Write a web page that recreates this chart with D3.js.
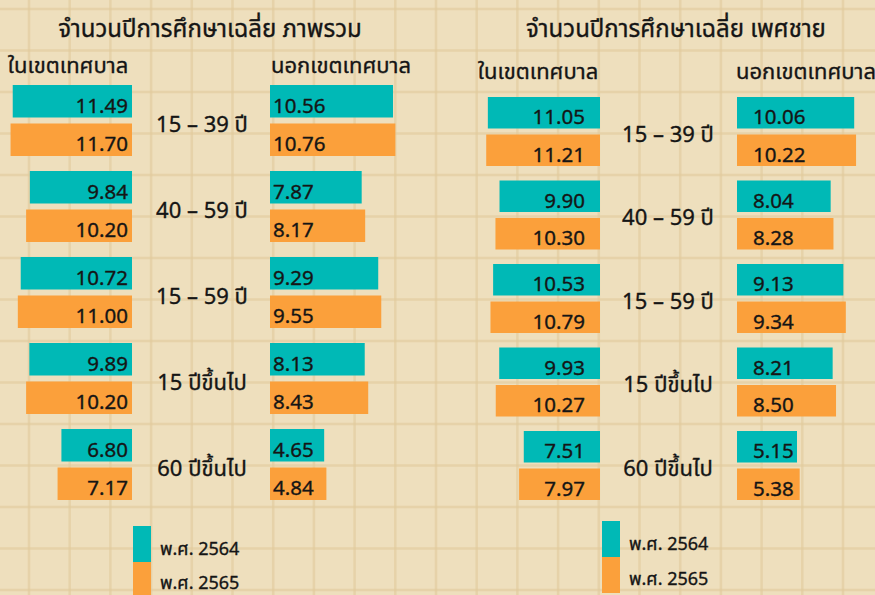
<!DOCTYPE html>
<html>
<head>
<meta charset="utf-8">
<script src="https://cdn.jsdelivr.net/npm/d3@7"></script>
<style>
  html, body { margin: 0; padding: 0; background: #EEDFBD; }
  svg { display: block; }
  text { font-family: Tahoma, "Noto Sans Thai", "Noto Sans", "DejaVu Sans", sans-serif; fill: #151515; stroke: #151515; stroke-width: 0.35px; }
</style>
</head>
<body>
<svg id="chart" width="875" height="595"></svg>
<script>
// ---------- data ----------
const categories = ["15 – 39 ปี", "40 – 59 ปี", "15 – 59 ปี", "15 ปีขึ้นไป", "60 ปีขึ้นไป"];
const years = ["พ.ศ. 2564", "พ.ศ. 2565"];
const areaLabels = ["ในเขตเทศบาล", "นอกเขตเทศบาล"];
const panelTitles = ["จำนวนปีการศึกษาเฉลี่ย ภาพรวม", "จำนวนปีการศึกษาเฉลี่ย เพศชาย"];

const totalUrban2564 = [11.49, 9.84, 10.72, 9.89, 6.80];
const totalUrban2565 = [11.70, 10.20, 11.00, 10.20, 7.17];
const totalRural2564 = [10.56, 7.87, 9.29, 8.13, 4.65];
const totalRural2565 = [10.76, 8.17, 9.55, 8.43, 4.84];

const maleUrban2564 = [11.05, 9.90, 10.53, 9.93, 7.51];
const maleUrban2565 = [11.21, 10.30, 10.79, 10.27, 7.97];
const maleRural2564 = [10.06, 8.04, 9.13, 8.21, 5.15];
const maleRural2565 = [10.22, 8.28, 9.34, 8.50, 5.38];

const colors = ["#00B9B6", "#FBA03B"];

// ---------- layout ----------
const W = 875, H = 595;
const svg = d3.select("#chart");

// background grid
svg.append("rect").attr("width", W).attr("height", H).attr("fill", "#EEDFBD");
const gx = d3.range(-1, 22).map(k => 29 + 40.7 * k);
const gy = d3.range(0, 15).map(k => 9 + 41.5 * k);
svg.append("g").selectAll("line.v").data(gx).join("line")
  .attr("x1", d => d).attr("x2", d => d).attr("y1", 0).attr("y2", H)
  .attr("stroke", "#E2CB9C").attr("stroke-width", 2.5).attr("opacity", 0.6);
svg.append("g").selectAll("line.h").data(gy).join("line")
  .attr("y1", d => d).attr("y2", d => d).attr("x1", 0).attr("x2", W)
  .attr("stroke", "#E2CB9C").attr("stroke-width", 2.5).attr("opacity", 0.6);

const panels = [
  {
    title: panelTitles[0], titleX: 210, titleY: 37,
    urban: [totalUrban2564, totalUrban2565], rural: [totalRural2564, totalRural2565],
    urbanEnd: 132, urbanPx: 10.38, ruralStart: 270, ruralPx: 11.65,
    top: 85, step: 86, groupH: 71, barGap: 6,
    headY: 73, urbanHeadX: 68, ruralHeadX: 341,
    catX: 202, catOff: 11, textInsetL: 4, textInsetR: 3,
    legendX: 133, legendY: 526, legendH: 36, legendBase: [29, 27]
  },
  {
    title: panelTitles[1], titleX: 676, titleY: 37,
    urban: [maleUrban2564, maleUrban2565], rural: [maleRural2564, maleRural2565],
    urbanEnd: 600, urbanPx: 10.15, ruralStart: 737, ruralPx: 11.65,
    top: 97, step: 83.5, groupH: 69, barGap: 6,
    headY: 79, urbanHeadX: 538, ruralHeadX: 806,
    catX: 668, catOff: 10, textInsetL: 15, textInsetR: 16,
    legendX: 602, legendY: 521, legendH: 36, legendBase: [29, 28]
  }
];

panels.forEach(p => {
  const g = svg.append("g");

  g.append("text").attr("x", p.titleX).attr("y", p.titleY)
    .attr("text-anchor", "middle").attr("font-size", 24)
    .text(p.title);

  g.append("text").attr("x", p.urbanHeadX).attr("y", p.headY)
    .attr("text-anchor", "middle").attr("font-size", 22).text(areaLabels[0]);
  g.append("text").attr("x", p.ruralHeadX).attr("y", p.headY)
    .attr("text-anchor", "middle").attr("font-size", 22).text(areaLabels[1]);

  const y = d3.scaleBand().domain(categories)
    .range([p.top, p.top + 4 * p.step + p.groupH])
    .paddingInner((p.step - p.groupH) / p.step).paddingOuter(0);
  const inner = d3.scaleBand().domain(years).range([0, p.groupH])
    .paddingInner(p.barGap / ((p.groupH + p.barGap) / 2)).paddingOuter(0);

  const xU = d3.scaleLinear().domain([0, 12]).range([p.urbanEnd, p.urbanEnd - 12 * p.urbanPx]);
  const xR = d3.scaleLinear().domain([0, 12]).range([p.ruralStart, p.ruralStart + 12 * p.ruralPx]);

  categories.forEach((c, i) => {
    years.forEach((yr, j) => {
      const vU = p.urban[j][i], vR = p.rural[j][i];
      const by = y(c) + inner(yr), bh = inner.bandwidth();
      g.append("rect").attr("x", xU(vU)).attr("y", by)
        .attr("width", xU(0) - xU(vU)).attr("height", bh).attr("fill", colors[j]);
      g.append("text").attr("x", xU(0) - p.textInsetL).attr("y", by + bh / 2 + 11.5)
        .attr("text-anchor", "end").attr("font-size", 20.5).text(vU.toFixed(2));
      g.append("rect").attr("x", xR(0)).attr("y", by)
        .attr("width", xR(vR) - xR(0)).attr("height", bh).attr("fill", colors[j]);
      g.append("text").attr("x", xR(0) + p.textInsetR).attr("y", by + bh / 2 + 11.5)
        .attr("text-anchor", "start").attr("font-size", 20.5).text(vR.toFixed(2));
    });
    g.append("text").attr("x", p.catX).attr("y", y(c) + p.groupH / 2 + p.catOff)
      .attr("text-anchor", "middle").attr("font-size", 22).text(c);
  });

  // legend
  years.forEach((yr, j) => {
    g.append("rect").attr("x", p.legendX).attr("y", p.legendY + j * p.legendH)
      .attr("width", 18).attr("height", p.legendH).attr("fill", colors[j]);
    g.append("text").attr("x", p.legendX + 27).attr("y", p.legendY + j * p.legendH + p.legendBase[j])
      .attr("font-size", 18).text(yr);
  });
});
</script>
</body>
</html>
